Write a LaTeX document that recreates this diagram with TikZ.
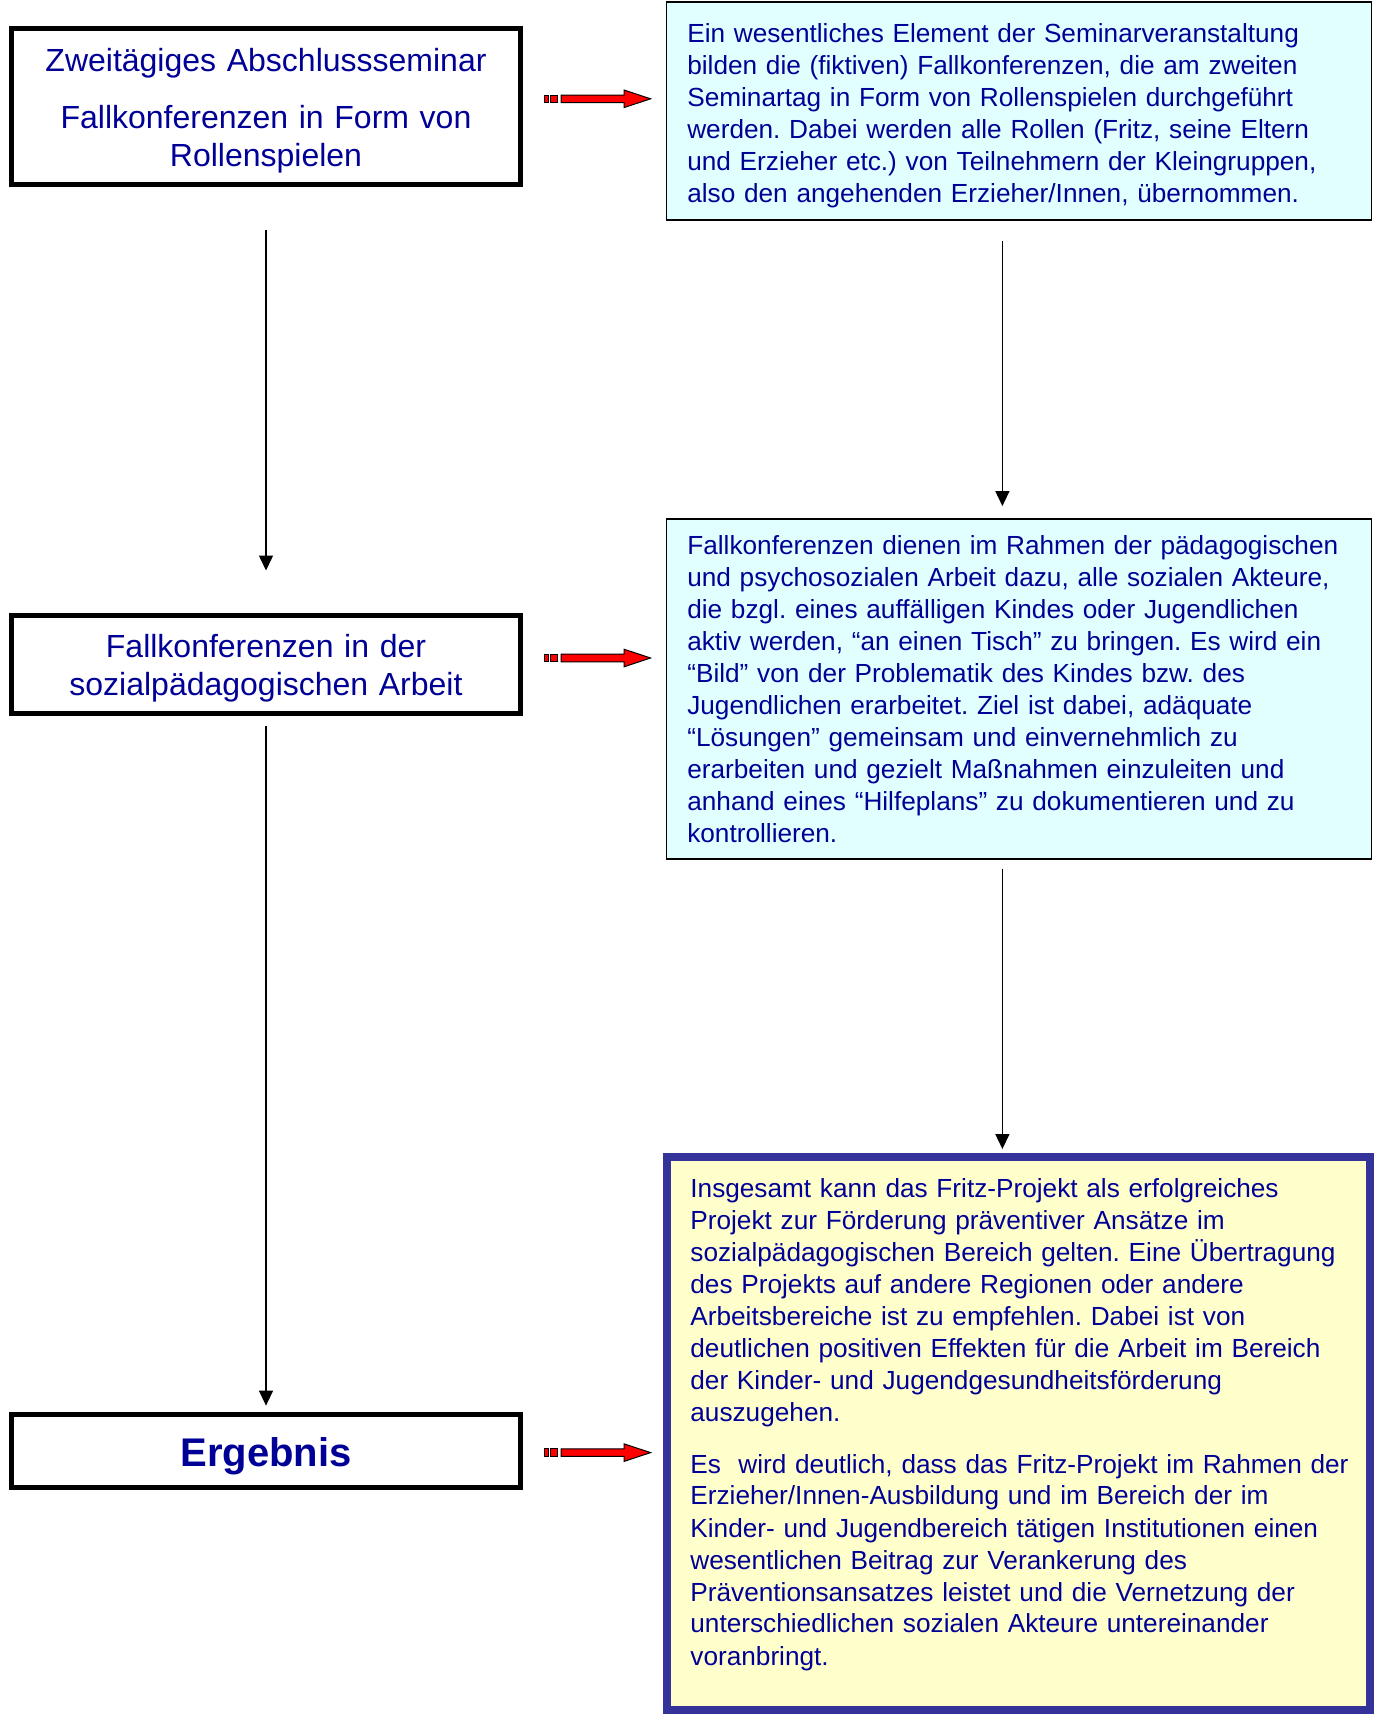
\documentclass[tikz,border=0pt]{standalone}
\usepackage{fontspec}
\setmainfont{Liberation Sans}
\usetikzlibrary{arrows.meta,positioning}

\definecolor{textblau}{RGB}{0,0,150}
\definecolor{hellcyan}{RGB}{226,255,255}
\definecolor{hellgelb}{RGB}{255,255,204}
\definecolor{rahmenblau}{RGB}{51,51,153}

\tikzset{
	titel/.style={draw=black, line width=2.5pt, fill=white, minimum width=254.9pt, text width=254.9pt, inner xsep=0pt, align=center, text=textblau, font=\fontsize{16}{19}\selectfont},
	info/.style={draw=black, line width=0.75pt, fill=hellcyan, minimum width=352.5pt, text width=331.9pt, inner xsep=10.3pt, align=left, text=textblau, font=\fontsize{13.1}{16}\selectfont},
	pfeil/.style={-{Triangle[width=7pt,length=7.5pt]}, line width=0.75pt},
	rot/.style={fill=red, draw=black, line width=0.5pt}
}

% unsichtbare Stuetze fuer die erste Zeile
\newcommand{\oben}[1]{\rule{0pt}{#1}}

% roter Blockpfeil mit zwei kleinen Kaestchen
\newcommand{\rotpfeil}[1]{%
	\begin{scope}[shift={(#1)}]
		\filldraw[rot] (0,-1.9) rectangle (2,1.9);
		\filldraw[rot] (3,-1.9) rectangle (6.5,1.9);
		\filldraw[rot] (8.5,-1.9) -- (40,-1.9) -- (40,-4.4) -- (53.3,0) -- (40,4.4) -- (40,1.9) -- (8.5,1.9) -- cycle;
	\end{scope}}

\begin{document}
\frenchspacing
\begin{tikzpicture}[x=1pt,y=-1pt]
	\useasboundingbox (0,0) rectangle (687.5,857);
	
	% linke Spalte
	\node[titel, minimum height=78pt] (zweitaegig) at (133,53.25) {\oben{15.5pt}Zweitägiges Abschlussseminar\\[9.5pt]Fallkonferenzen in Form von\\Rollenspielen};
	\node[titel, minimum height=49pt] (sozial) at (133,332.25) {\oben{15.5pt}Fallkonferenzen in der\\sozialpädagogischen Arbeit};
	\node[titel, minimum height=36.5pt, font=\fontsize{20}{24}\selectfont\bfseries] (ergebnis) at (133,725.5) {\oben{20pt}Ergebnis};
	
	% rechte Spalte
	\node[info, minimum height=108.8pt] (element) at (509.6,55.5) {\oben{14.5pt}Ein wesentliches Element der Seminarveranstaltung\\
		bilden die (fiktiven) Fallkonferenzen, die am zweiten\\
		Seminartag in Form von Rollenspielen durchgeführt\\
		werden. Dabei werden alle Rollen (Fritz, seine Eltern\\
		und Erzieher etc.) von Teilnehmern der Kleingruppen,\\
		also den angehenden Erzieher/Innen, übernommen.};
	\node[info, minimum height=170pt] (konferenz) at (509.6,344.6) {Fallkonferenzen dienen im Rahmen der pädagogischen\\
		und psychosozialen Arbeit dazu, alle sozialen Akteure,\\
		die bzgl. eines auffälligen Kindes oder Jugendlichen\\
		aktiv werden, “an einen Tisch” zu bringen. Es wird ein\\
		“Bild” von der Problematik des Kindes bzw. des\\
		Jugendlichen erarbeitet. Ziel ist dabei, adäquate\\
		“Lösungen” gemeinsam und einvernehmlich zu\\
		erarbeiten und gezielt Maßnahmen einzuleiten und\\
		anhand eines “Hilfeplans” zu dokumentieren und zu\\
		kontrollieren.};
	\node[draw=rahmenblau, line width=4pt, fill=hellgelb, minimum width=351.5pt, minimum height=276.5pt] (fazit) at (509.25,716.75) {};
	\node[below right=12.5pt and 13.5pt of fazit.north west, inner sep=0pt, text width=335pt, align=left, text=textblau, font=\fontsize{13.1}{16}\selectfont] (fazittext) {Insgesamt kann das Fritz-Projekt als erfolgreiches\\
		Projekt zur Förderung präventiver Ansätze im\\
		sozialpädagogischen Bereich gelten. Eine Übertragung\\
		des Projekts auf andere Regionen oder andere\\
		Arbeitsbereiche ist zu empfehlen. Dabei ist von\\
		deutlichen positiven Effekten für die Arbeit im Bereich\\
		der Kinder- und Jugendgesundheitsförderung\\
		auszugehen.\\[9.8pt]
		Es\ \ wird deutlich, dass das Fritz-Projekt im Rahmen der\\
		Erzieher/Innen-Ausbildung und im Bereich der im\\
		Kinder- und Jugendbereich tätigen Institutionen einen\\
		wesentlichen Beitrag zur Verankerung des\\
		Präventionsansatzes leistet und die Vernetzung der\\
		unterschiedlichen sozialen Akteure untereinander\\
		voranbringt.};
	
	% Pfeile nach unten
	\coordinate (achse) at (501.2,0);
	\draw[pfeil, shorten <=21.25pt, shorten >=21.25pt] (zweitaegig.south) -- (sozial.north);
	\draw[pfeil, shorten <=5pt, shorten >=3.2pt] (sozial.south) -- (ergebnis.north);
	\draw[pfeil, shorten <=10.45pt, shorten >=6.2pt] (element.south -| achse) -- (konferenz.north -| achse);
	\draw[pfeil, shorten <=4.5pt, shorten >=2pt] (konferenz.south -| achse) -- (fazit.north -| achse);
	
	% rote Pfeile nach rechts
	\coordinate (r1) at (272,49.4);
	\coordinate (r2) at (272,329);
	\coordinate (r3) at (272,726.3);
	\rotpfeil{r1}
	\rotpfeil{r2}
	\rotpfeil{r3}
\end{tikzpicture}
\end{document}
